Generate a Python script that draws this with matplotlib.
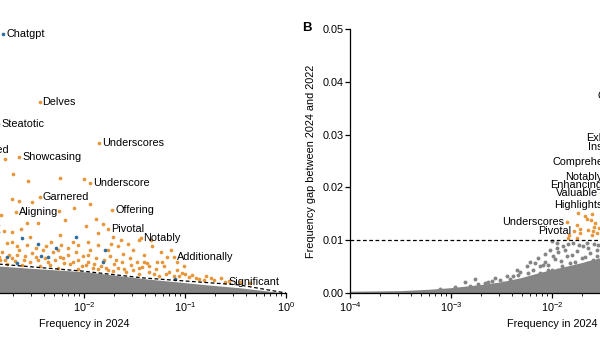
import numpy as np
import matplotlib
matplotlib.use("Agg")
import matplotlib.pyplot as plt

plt.rcParams['font.family'] = ['Liberation Sans', 'DejaVu Sans']
plt.rcParams['mathtext.default'] = 'regular'
plt.rcParams['font.size'] = 7.8

ORANGE = "#E8963A"
BLUE = "#2F6E9E"
GRAY = "#858585"

# ---- panel A: frequency ratio (log10) vs frequency in 2024 (log10) ----
a_words = ["Chatgpt", "Delves", "Steatotic", "Showcased", "Showcasing", "Underscores",
           "Underscore", "Garnered", "Aligning", "Offering", "Pivotal", "Notably",
           "Additionally", "Significant"]
a_words_logf = [-2.80, -2.44, -2.85, -3.33, -2.64, -1.85, -1.94, -2.44, -2.67, -1.72,
                -1.76, -1.44, -1.11, -0.60]
a_words_logr = [1.96, 1.45, 1.28, 1.08, 1.03, 1.14, 0.83, 0.725, 0.61, 0.63,
                0.485, 0.42, 0.275, 0.086]
a_words_kind = ["content", "style", "content", "style", "style", "style", "style",
                "style", "style", "style", "style", "style", "style", "style"]

a_style_logf = [-2.78, -2.70, -2.55, -2.24, -2.00, -2.71, -2.64, -2.51, -1.94, -2.10,
                -2.25, -2.82, -2.19, -1.88, -1.98, -1.81, -2.56, -2.46, -2.85, -2.79,
                -2.71, -2.62, -2.24, -1.96, -1.86, -1.71, -1.63, -2.53, -2.76, -2.71,
                -2.66, -2.56, -2.33, -2.23, -2.16, -2.06, -1.86, -1.76, -1.66, -1.56,
                -1.33, -1.24, -1.14, -1.18, -1.23, -1.38, -1.43, -1.28, -1.36, -2.81,
                -2.74, -2.64, -2.58, -2.51, -2.41, -2.31, -2.24, -2.16, -2.08, -2.01,
                -1.94, -1.88, -1.74, -1.68, -1.61, -1.54, -1.48, -2.83, -2.68, -2.46,
                -2.36, -2.20, -2.11, -1.98, -1.91, -1.83, -1.76, -1.66, -1.58, -1.51,
                -1.31, -1.16, -1.03, -0.96, -0.89, -0.74, -0.64, -0.81, -1.11, -1.26,
                -1.46, -1.71, -1.86, -2.06, -2.26, -2.44, -2.61, -2.76,
                -2.84, -2.78, -2.71, -2.66, -2.59, -2.53, -2.48, -2.39, -2.34, -2.29,
                -2.21, -2.14, -2.06, -2.02, -1.96, -1.90, -1.80, -1.78, -1.70, -1.62,
                -1.60, -1.53, -1.46, -1.41, -1.36, -1.29, -1.21, -1.19, -1.08, -1.06,
                -1.00, -0.93, -0.86, -0.79, -0.71, -0.56, -0.46, -0.36, -1.08, -1.01,
                -1.51, -1.41, -1.96, -2.26, -2.38, -1.73, -1.46, -1.34, -2.48, -2.11]
a_style_logr = [1.015, 0.902, 0.848, 0.871, 0.864, 0.712, 0.697, 0.689, 0.674, 0.644,
                0.621, 0.591, 0.553, 0.561, 0.508, 0.523, 0.530, 0.530, 0.515, 0.470,
                0.462, 0.485, 0.439, 0.386, 0.455, 0.424, 0.402, 0.424, 0.379, 0.386,
                0.356, 0.364, 0.386, 0.364, 0.341, 0.364, 0.364, 0.326, 0.356, 0.371,
                0.356, 0.311, 0.326, 0.273, 0.235, 0.227, 0.197, 0.235, 0.205, 0.311,
                0.288, 0.326, 0.280, 0.303, 0.326, 0.311, 0.273, 0.288, 0.311, 0.280,
                0.326, 0.265, 0.280, 0.250, 0.295, 0.265, 0.235, 0.250, 0.242, 0.250,
                0.235, 0.227, 0.235, 0.212, 0.189, 0.205, 0.174, 0.189, 0.159, 0.174,
                0.144, 0.159, 0.152, 0.121, 0.114, 0.114, 0.114, 0.098, 0.129, 0.129,
                0.144, 0.167, 0.182, 0.182, 0.189, 0.205, 0.212, 0.220,
                0.273, 0.250, 0.265, 0.288, 0.250, 0.235, 0.273, 0.265, 0.212, 0.250,
                0.265, 0.220, 0.250, 0.205, 0.235, 0.220, 0.250, 0.189, 0.220, 0.235,
                0.182, 0.212, 0.189, 0.235, 0.159, 0.182, 0.205, 0.144, 0.174, 0.129,
                0.144, 0.136, 0.106, 0.129, 0.098, 0.091, 0.083, 0.076, 0.235, 0.205,
                0.326, 0.288, 0.288, 0.326, 0.356, 0.371, 0.402, 0.402, 0.341, 0.386]

a_content_logf = [-2.85, -2.61, -2.08, -2.46, -1.79, -2.76, -2.43, -2.36, -1.81, -2.28, -1.10, -2.66]
a_content_logr = [0.462, 0.417, 0.424, 0.371, 0.326, 0.273, 0.280, 0.273, 0.235, 0.341, 0.106, 0.227]

# upper edge of the bulk of unremarkable words
a_bulk_logf = [-4.0, -2.86, -2.56, -2.26, -1.96, -1.66, -1.36, -1.06, -0.76, -0.46, -0.16, 0.0]
a_bulk_logr = [0.28, 0.205, 0.189, 0.174, 0.159, 0.132, 0.105, 0.083, 0.060, 0.040, 0.013, 0.0]

a_thresh_logf = [-4.0, -2.86, -2.03, -1.41, -1.0, -0.46, 0.0]
a_thresh_logr = [0.30, 0.22, 0.167, 0.114, 0.091, 0.061, 0.0]

# ---- panel B: frequency gap vs frequency in 2024 ----
b_words = ["Underscores", "Pivotal", "Notably", "Enhancing", "Valuable", "Highlights",
           "Comprehensive", "Exhibited", "Insights", "Crucial"]
b_words_logf = [-1.854, -1.782, -1.465, -1.47, -1.515, -1.465, -1.211, -1.178, -1.237, -1.178]
b_words_gap = [0.01345, 0.01167, 0.02197, 0.02051, 0.01894, 0.01672, 0.02473, 0.02936,
               0.02765, 0.03723]

b_style_logf = [-1.740, -1.673, -1.607, -1.617, -1.574, -1.755, -1.723, -1.641, -1.592,
                -1.607, -1.551, -1.828, -1.654, -1.723, -1.755, -1.845, -1.535, -1.584]
b_style_gap = [0.01515, 0.01451, 0.01502, 0.01388, 0.01326, 0.01294, 0.01212, 0.01199,
               0.01167, 0.01104, 0.01136, 0.01104, 0.01402, 0.01136, 0.01042, 0.01042,
               0.01237, 0.01256]

b_other_logf = [-2.250, -2.188, -2.119, -2.386, -2.020, -1.990, -1.891, -1.854, -1.822,
                -1.755, -1.690, -1.624, -1.558, -2.003, -1.953, -1.789, -1.706, -1.657,
                -1.591, -2.086, -2.036, -2.515, -2.449, -2.597, -2.350, -1.907, -1.805,
                -1.938, -1.953, -1.657, -2.861, -2.762, -2.663, -2.317, -2.218, -2.139,
                -2.069, -1.545, -1.743, -1.624,
                -3.109, -2.960, -2.812, -2.733, -2.634, -2.564, -2.485, -2.416, -2.337,
                -2.297, -2.238, -2.168, -2.139, -2.069, -2.040, -1.970, -1.941, -1.901,
                -1.871, -1.842, -1.802, -1.772, -1.733, -1.703, -1.673, -1.644, -1.614,
                -1.584, -1.554, -1.535, -2.218, -2.366, -2.000, -1.861, -2.119]
b_other_gap = [0.00504, 0.00441, 0.00384, 0.00314, 0.00820, 0.00693, 0.00883, 0.00693,
               0.00574, 0.00788, 0.00883, 0.00758, 0.00820, 0.00977, 0.00852, 0.00947,
               0.00663, 0.00568, 0.00631, 0.00536, 0.00441, 0.00252, 0.00314, 0.00220,
               0.00441, 0.00598, 0.00441, 0.00441, 0.00947, 0.00947, 0.00214, 0.00271,
               0.00195, 0.00403, 0.00593, 0.00669, 0.00593, 0.00915, 0.00479, 0.00441,
               0.00081, 0.00119, 0.00138, 0.00176, 0.00214, 0.00290, 0.00195, 0.00271,
               0.00347, 0.00252, 0.00384, 0.00574, 0.00328, 0.00744, 0.00536, 0.00650,
               0.00782, 0.00517, 0.00820, 0.00934, 0.00725, 0.00593, 0.00915, 0.00536,
               0.00687, 0.00858, 0.00593, 0.00934, 0.00706, 0.00536, 0.00290, 0.00195,
               0.00441, 0.00403, 0.00517]

b_bulk_logf = [-4.0, -3.505, -3.21, -3.01, -2.71, -2.51, -2.31, -2.12, -1.92, -1.72, -1.52, -1.03]
b_bulk_gap = [0.00034, 0.00044, 0.00072, 0.0010, 0.0016, 0.0021, 0.0029, 0.0039, 0.0048,
              0.0057, 0.0067, 0.0080]

gap_threshold = 0.01

fig = plt.figure(figsize=(6, 3.38), dpi=100)
axA = fig.add_axes([-118 / 600, 45 / 338, 404 / 600, 264 / 338])
axB = fig.add_axes([350 / 600, 45 / 338, 404 / 600, 264 / 338])

for ax in (axA, axB):
    ax.set_xscale('log')
    ax.spines['top'].set_visible(False)
    ax.spines['right'].set_visible(False)
    ax.spines['left'].set_linewidth(0.9)
    ax.spines['bottom'].set_linewidth(0.9)
    ax.tick_params(which='major', length=3.5, width=0.9, pad=2)
    ax.tick_params(which='minor', length=2, width=0.6)
    ax.set_xlim(1e-4, 1)
    ax.set_xticks([1e-4, 1e-3, 1e-2, 1e-1, 1e0])
    ax.set_xlabel("Frequency in 2024", labelpad=3.5)

# panel A
axA.set_yscale('log')
axA.set_ylim(1, 100)
bx = 10 ** np.array(a_bulk_logf)
axA.fill_between(bx, 1, 10 ** np.array(a_bulk_logr), color=GRAY, lw=0, zorder=1)
axA.scatter(10 ** np.array(a_style_logf), 10 ** np.array(a_style_logr), s=7, color=ORANGE,
            lw=0, zorder=2)
axA.scatter(10 ** np.array(a_content_logf), 10 ** np.array(a_content_logr), s=7, color=BLUE,
            lw=0, zorder=2)
axA.plot(10 ** np.array(a_thresh_logf), 10 ** np.array(a_thresh_logr), color='black',
         lw=0.9, ls=(0, (3, 2)), zorder=3)
for w, lf, lr, k in zip(a_words, a_words_logf, a_words_logr, a_words_kind):
    c = BLUE if k == "content" else ORANGE
    axA.scatter([10 ** lf], [10 ** lr], s=7, color=c, lw=0, zorder=2)
    axA.annotate(w, (10 ** lf, 10 ** lr), xytext=(2.2, 0), textcoords='offset points',
                 va='center', ha='left', annotation_clip=False)

# panel B
axB.set_ylim(0, 0.05)
axB.set_yticks([0, 0.01, 0.02, 0.03, 0.04, 0.05])
axB.set_yticklabels(["0.00", "0.01", "0.02", "0.03", "0.04", "0.05"])
axB.tick_params(axis='y', pad=1)
axB.fill_between(10 ** np.array(b_bulk_logf), 0, b_bulk_gap, color=GRAY, lw=0, zorder=1)
axB.scatter(10 ** np.array(b_other_logf), b_other_gap, s=8, color=GRAY, lw=0, zorder=2)
axB.scatter(10 ** np.array(b_style_logf), b_style_gap, s=7, color=ORANGE, lw=0, zorder=2)
axB.axhline(gap_threshold, color='black', lw=0.9, ls=(0, (3, 2)), zorder=3)
for w, lf, g in zip(b_words, b_words_logf, b_words_gap):
    axB.scatter([10 ** lf], [g], s=7, color=ORANGE, lw=0, zorder=2, clip_on=False)
    axB.annotate(w, (10 ** lf, g), xytext=(-2.2, 0), textcoords='offset points',
                 va='center', ha='right', annotation_clip=False)
axB.set_ylabel("Frequency gap between 2024 and 2022", labelpad=5)

fig.text(307 / 600, 1 - 28 / 338, "B", fontsize=9.5, fontweight='bold', ha='center', va='center')

fig.savefig("out.png", dpi=100)
